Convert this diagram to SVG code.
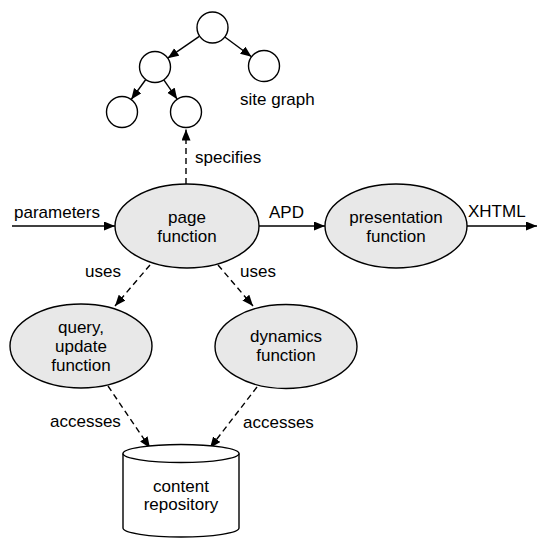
<svg xmlns="http://www.w3.org/2000/svg" width="538" height="538" viewBox="0 0 538 538">
<defs>
<marker id="ah" markerUnits="userSpaceOnUse" markerWidth="12" markerHeight="10" refX="11" refY="4.5" orient="auto">
<path d="M0,0 L11,4.5 L0,9 z" fill="#000"/>
</marker>
<style>
.t{font-family:"Liberation Sans",Arial,sans-serif;font-size:17px;fill:#000}
.c{text-anchor:middle}
.n{fill:#fff;stroke:#000;stroke-width:1.4}
.e{fill:#e8e8e8;stroke:#000;stroke-width:1.4}
.s{fill:none;stroke:#000;stroke-width:1.4;marker-end:url(#ah)}
.d{stroke-dasharray:6,4}
</style>
</defs>
<rect width="538" height="538" fill="#fff"/>
<g id="connectors">
<line class="s" x1="199.3" y1="36.3" x2="167.7" y2="58.2"/>
<line class="s" x1="224.5" y1="36.7" x2="251.5" y2="56.8"/>
<line class="s" x1="145.8" y1="79.5" x2="131.2" y2="99.5"/>
<line class="s" x1="163.8" y1="79.8" x2="177.2" y2="99.2"/>
<line class="s d" x1="186" y1="184" x2="186" y2="129.5"/>
<line class="s" x1="12" y1="226" x2="115" y2="226"/>
<line class="s" x1="259" y1="226" x2="325" y2="226"/>
<line class="s" x1="467" y1="226" x2="537" y2="226"/>
<line class="s d" x1="150" y1="265" x2="115" y2="306"/>
<line class="s d" x1="218" y1="265" x2="253" y2="306"/>
<line class="s d" x1="108" y1="386" x2="150" y2="448"/>
<line class="s d" x1="257" y1="387" x2="210" y2="448"/>
<text class="t" x="195" y="163">specifies</text>
<text class="t" x="14" y="218">parameters</text>
<text class="t" x="269" y="218">APD</text>
<text class="t" x="468" y="217">XHTML</text>
<text class="t" x="85" y="277">uses</text>
<text class="t" x="240" y="277">uses</text>
<text class="t" x="50" y="427">accesses</text>
<text class="t" x="243" y="428">accesses</text>
</g>
<g id="site-graph">
<circle class="n" cx="212.5" cy="27.5" r="15.5"/>
<circle class="n" cx="155" cy="67" r="15.5"/>
<circle class="n" cx="264" cy="66" r="15.5"/>
<circle class="n" cx="122" cy="112" r="15.5"/>
<circle class="n" cx="186" cy="112" r="15.5"/>
<text class="t" x="240" y="105">site graph</text>
</g>
<g id="page-function">
<ellipse class="e" cx="187" cy="226" rx="72" ry="42"/>
<text class="t c" x="187" y="223">page</text>
<text class="t c" x="187" y="242">function</text>
</g>
<g id="presentation-function">
<ellipse class="e" cx="396" cy="226" rx="71" ry="42"/>
<text class="t c" x="396" y="223">presentation</text>
<text class="t c" x="396" y="242">function</text>
</g>
<g id="query-update-function">
<ellipse class="e" cx="81" cy="346" rx="71" ry="42"/>
<text class="t c" x="81" y="333">query,</text>
<text class="t c" x="81" y="352">update</text>
<text class="t c" x="81" y="371">function</text>
</g>
<g id="dynamics-function">
<ellipse class="e" cx="286" cy="346.5" rx="71" ry="42"/>
<text class="t c" x="286" y="342">dynamics</text>
<text class="t c" x="286" y="361">function</text>
</g>
<g id="content-repository">
<path class="n" d="M123,453.5 L123,528 A58,9 0 0 0 239,528 L239,453.5"/>
<ellipse class="n" cx="181" cy="453.5" rx="58" ry="9"/>
<text class="t c" x="181" y="492">content</text>
<text class="t c" x="181" y="510">repository</text>
</g>
</svg>
